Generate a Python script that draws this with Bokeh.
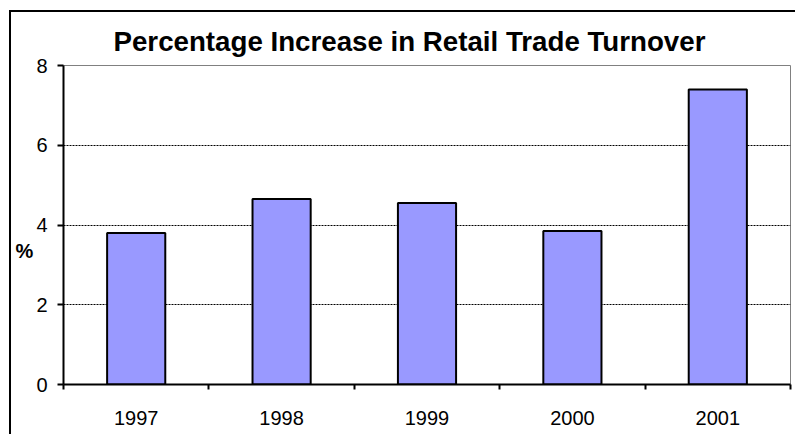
from bokeh.plotting import figure
from bokeh.models import Range1d, FixedTicker
from bokeh.embed import file_html
from bokeh.resources import INLINE

years = ["1997", "1998", "1999", "2000", "2001"]
increase = [3.8, 4.65, 4.55, 3.85, 7.4]
y_ticks = [0, 2, 4, 6, 8]

xs = [i + 0.5 for i in range(len(years))]

p = figure(width=786, height=424, output_backend="svg", toolbar_location=None,
           x_range=Range1d(0, len(years)), y_range=Range1d(0, 8),
           min_border_left=52, min_border_right=7, min_border_top=53, min_border_bottom=52)
p.styles = {"margin-left": "9px", "margin-top": "10px",
            "border-left": "2px solid black", "border-top": "2px solid black"}
p.background_fill_color = "white"
p.border_fill_color = "white"
p.outline_line_color = "#808080"
p.outline_line_width = 1

p.vbar(x=xs, top=increase, width=0.4, fill_color="#9999FF", line_color="black", line_width=2)

p.title.text = "Percentage Increase in Retail Trade Turnover"
p.title.text_font = "Liberation Sans"
p.title.text_font_size = "27.7px"
p.title.text_font_style = "bold"
p.title.text_color = "black"
p.title.align = "left"
p.title.offset = 50
p.title.standoff = 18

xa = p.xaxis[0]
xa.ticker = FixedTicker(ticks=xs, minor_ticks=list(range(len(years) + 1)))
xa.major_label_overrides = {x: y for x, y in zip(xs, years)}
xa.major_tick_line_color = None
xa.major_tick_out = 0
xa.major_tick_in = 0
xa.minor_tick_line_color = "black"
xa.minor_tick_out = 5
xa.minor_tick_in = 0
xa.minor_tick_line_width = 2
xa.axis_line_color = "black"
xa.axis_line_width = 2
xa.major_label_text_font = "Liberation Sans"
xa.major_label_text_font_size = "20px"
xa.major_label_text_color = "black"
xa.major_label_standoff = 21

ya = p.yaxis[0]
ya.ticker = FixedTicker(ticks=y_ticks)
ya.minor_tick_line_color = None
ya.major_tick_out = 6
ya.major_tick_in = 0
ya.major_tick_line_width = 2
ya.axis_line_color = "black"
ya.axis_line_width = 2
ya.major_label_text_font = "Liberation Sans"
ya.major_label_text_font_size = "20px"
ya.major_label_text_color = "black"
ya.major_label_standoff = 10
ya.axis_label = "\n\n%"
ya.axis_label_orientation = "horizontal"
ya.axis_label_text_font = "Liberation Sans"
ya.axis_label_text_font_size = "20px"
ya.axis_label_text_font_style = "bold"
ya.axis_label_text_color = "black"
ya.axis_label_standoff = 0

p.xgrid.grid_line_color = None
p.ygrid.grid_line_color = "black"
p.ygrid.grid_line_dash = "2 1"
p.ygrid.grid_line_width = 1
p.ygrid.ticker = FixedTicker(ticks=y_ticks)

open("out.html", "w").write(file_html(p, INLINE))
